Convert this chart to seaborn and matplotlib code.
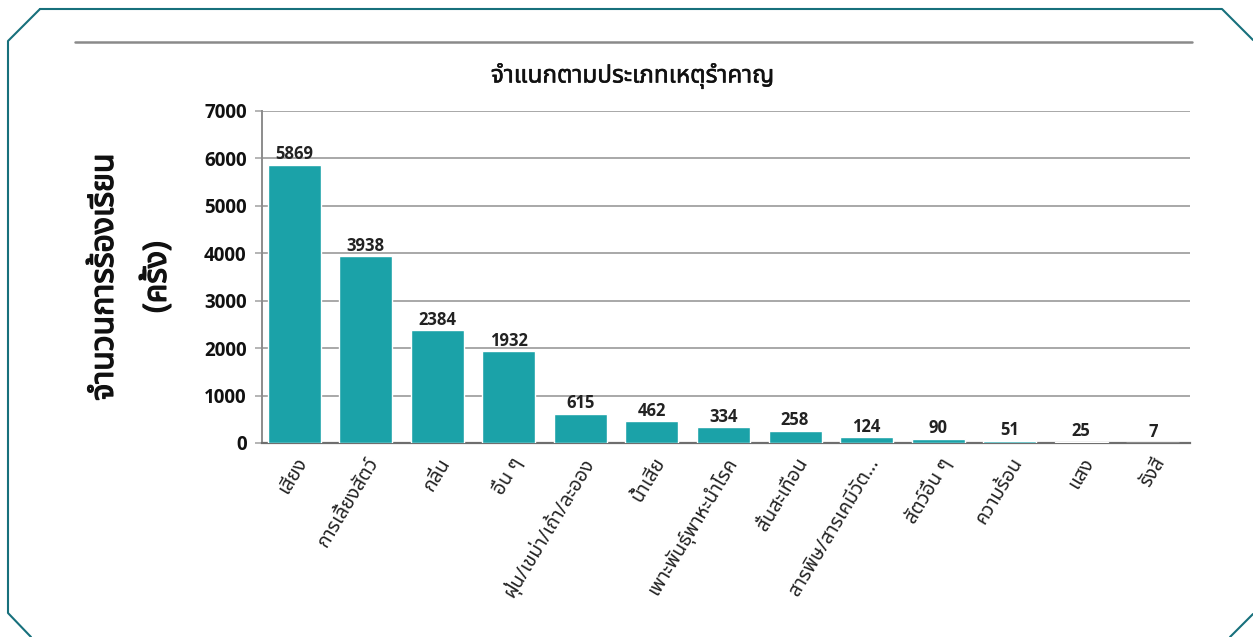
import matplotlib
matplotlib.use("Agg")
import matplotlib.pyplot as plt
import matplotlib.patheffects as pe
import seaborn as sns
from matplotlib.lines import Line2D

# data
categories = [
    "เสียง", "การเลี้ยงสัตว์", "กลิ่น", "อื่น ๆ", "ฝุ่น/เขม่า/เถ้า/ละออง",
    "น้ำเสีย", "เพาะพันธุ์พาหะนำโรค", "สั่นสะเทือน", "สารพิษ/สารเคมีวัต...",
    "สัตว์อื่น ๆ", "ความร้อน", "แสง", "รังสี",
]
counts = [5869, 3938, 2384, 1932, 615, 462, 334, 258, 124, 90, 51, 25, 7]
y_ticks = [0, 1000, 2000, 3000, 4000, 5000, 6000, 7000]

title = "จำแนกตามประเภทเหตุรำคาญ"
y_label = "จำนวนการร้องเรียน\n(ครั้ง)"

BAR_COLOR = "#1ba2a8"
FRAME_COLOR = "#17707c"
THAI = ["Noto Sans Thai", "DejaVu Sans"]
NUM = ["Open Sans", "DejaVu Sans"]

sns.set_theme(style="white")
plt.rcParams["font.family"] = NUM

W, H = 1253, 637
fig = plt.figure(figsize=(W / 100, H / 100), dpi=100)
fig.patch.set_facecolor("white")
ax = fig.add_axes([262 / W, 1 - 443 / H, 928 / W, 332 / H])

sns.barplot(x=categories, y=counts, color=BAR_COLOR, width=0.74,
            saturation=1, ax=ax, zorder=3)
ax.bar_label(ax.containers[0], fontsize=12, fontweight="bold",
             color="#222222", padding=1)

ax.set_ylim(0, 7000)
ax.set_xlim(-0.45, len(categories) - 0.48)
ax.set_yticks(y_ticks)
ax.set_yticklabels([str(t) for t in y_ticks], fontsize=13.5,
                   fontweight="bold", color="#111111")
ax.grid(axis="y", color="#a8a8a8", lw=1.4, zorder=0)
ax.tick_params(axis="y", length=5, width=1.2, color="#a8a8a8", pad=6, left=True)
ax.tick_params(axis="x", length=0, pad=8)
ax.set_xticks(range(len(categories)))
ax.set_xticklabels(categories, rotation=59, ha="right", rotation_mode="anchor",
                   fontsize=14, family=THAI, color="#222222")
ax.set_xlabel("")
for s in ["top", "right"]:
    ax.spines[s].set_visible(False)
ax.spines["left"].set_color("#8c8c8c")
ax.spines["left"].set_linewidth(1.4)
ax.spines["bottom"].set_color("#6e6e6e")
ax.spines["bottom"].set_linewidth(1.6)

ylab = ax.set_ylabel(y_label, family=THAI, fontsize=23, color="#111111",
                     linespacing=1.8, ha="center")
ylab.set_path_effects([pe.withStroke(linewidth=1.0, foreground="#111111")])
ax.yaxis.set_label_coords(-0.095, 0.5)

fig.text(0.505, 1 - 76 / H, title, family=THAI, fontsize=17.5,
         ha="center", va="center", color="#111111",
         path_effects=[pe.withStroke(linewidth=0.4, foreground="#111111")])

# separator line above title
fig.add_artist(Line2D([75 / W, 1192 / W], [1 - 42 / H, 1 - 42 / H],
                      transform=fig.transFigure, color="#8a8a8a", lw=1.8))

# octagonal frame with cut corners
px = [40, 1222, 1253, None, 1253, 1230, None, 31, 8, 8, 40]
py = [9, 9, 40, None, 614, 637, None, 637, 613, 41, 9]
seg_x, seg_y = [], []
for x, y in zip(px + [None], py + [None]):
    if x is None:
        fig.add_artist(Line2D([v / W for v in seg_x], [1 - v / H for v in seg_y],
                              transform=fig.transFigure, color=FRAME_COLOR, lw=1.5))
        seg_x, seg_y = [], []
    else:
        seg_x.append(x)
        seg_y.append(y)

fig.savefig("out.png", dpi=100, facecolor="white")
